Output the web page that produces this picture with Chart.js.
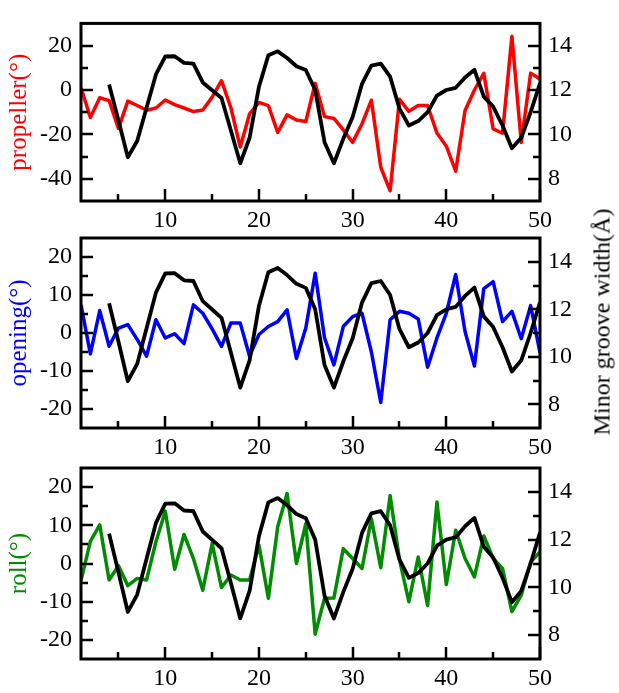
<!DOCTYPE html>
<html>
<head>
<meta charset="utf-8">
<title>propeller / opening / roll vs minor groove width</title>
<script src="https://cdn.jsdelivr.net/npm/chart.js@4.4.1/dist/chart.umd.min.js"></script>
<style>
  body { margin: 0; background: #fff; }
  #wrap { position: relative; width: 619px; height: 693px; overflow: hidden; }
  #wrap canvas { position: absolute; left: 0; top: 0; }
  #mgwTitle {
    position: absolute; left: 602px; top: 322px;
    transform: translate(-50%, -50%) rotate(-90deg);
    font: 24px "Liberation Serif", "Times New Roman", serif;
    white-space: nowrap; color: #000;
  }
</style>
</head>
<body>
<div id="wrap">
  <canvas id="propellerChart" width="619" height="693"></canvas>
  <canvas id="openingChart" width="619" height="693"></canvas>
  <canvas id="rollChart" width="619" height="693"></canvas>
  <div id="mgwTitle">Minor groove width(Å)</div>
</div>
<script>
// base pair index (x axis)
const basePairs = [1, 2, 3, 4, 5, 6, 7, 8, 9, 10, 11, 12, 13, 14, 15, 16, 17, 18, 19, 20,
  21, 22, 23, 24, 25, 26, 27, 28, 29, 30, 31, 32, 33, 34, 35, 36, 37, 38, 39, 40,
  41, 42, 43, 44, 45, 46, 47, 48, 49, 50];
// minor groove width only exists from bp 4
const groovePairs = [4, 5, 6, 7, 8, 9, 10, 11, 12, 13, 14, 15, 16, 17, 18, 19, 20,
  21, 22, 23, 24, 25, 26, 27, 28, 29, 30, 31, 32, 33, 34, 35, 36, 37, 38, 39, 40,
  41, 42, 43, 44, 45, 46, 47, 48, 49, 50];

const minorGroove = [12.25, 10.63, 8.97, 9.7, 11.2, 12.7, 13.51, 13.52, 13.22, 13.19,
  12.34, 11.99, 11.64, 10.18, 8.7, 9.85, 12.15, 13.56, 13.74, 13.44,
  13.07, 12.9, 12.0, 9.65, 8.7, 9.8, 10.78, 12.28, 13.1, 13.19,
  12.6, 11.16, 10.4, 10.6, 11.0, 11.75, 12.0, 12.1, 12.56, 12.91,
  11.7, 11.25, 10.4, 9.38, 9.85, 11.0, 12.3];

const propeller = [1, -12.4, -3.5, -4.8, -17.3, -5, -7, -9.1, -8.1, -4.5,
  -6.6, -8.1, -9.7, -9, -3.2, 4.2, -8, -25.7, -10.7, -5.6,
  -7, -19.1, -11.2, -13.5, -14.2, 3, -12, -12.8, -18, -23.6,
  -15.2, -4.6, -34.8, -45.4, -4.2, -9.6, -7, -7, -19.4, -25.3,
  -36.6, -9.2, 0, 7.5, -17.5, -19.5, 24.2, -23.6, 7.6, 5];

const opening = [7.4, -5.5, 5.9, -3.5, 1.3, 2.2, -1.7, -6.1, 3.5, -1.3,
  -0.2, -2.8, 7.4, 5.2, 1.1, -3.5, 2.6, 2.6, -6.1, -0.4,
  1.7, 3.0, 6.1, -6.7, 1.3, 15.7, -1.3, -8.4, 1.7, 4.3,
  5.2, -5, -18.3, 3.5, 5.7, 5.2, 3.7, -9, -1.3, 5.2,
  15.4, 0.4, -8.7, 11.7, 13.5, 3.0, 5.7, -1.5, 7.2, -5.2];

const roll = [-4.5, 5.8, 10.1, -4.3, -0.6, -5.8, -3.9, -4.3, 5.7, 13.7,
  -1.5, 7.6, 1.3, -7, 5.2, -6.3, -3, -4.3, -4.3, 4.8,
  -9.1, 9.6, 18.3, 0, 10.4, -18.5, -9.1, -9, 3.9, 1.3,
  -1.3, 11.7, -1.1, 17.8, 1, -10, 1.7, -11, 16.1, -5.5,
  8.7, 1.3, -3.5, 7.2, 1.3, -1.3, -12.6, -8.3, 0.4, 3];

// tick values
const xMajor = [10, 20, 30, 40, 50];
const xMinor = [5, 15, 25, 35, 45];
const propMajor = [-40, -20, 0, 20];
const propMinor = [-30, -10, 10];
const angMajor = [-20, -10, 0, 10, 20];
const angMinor = [-15, -5, 5, 15];
const mgwMajor = [8, 10, 12, 14];
const mgwMinor = [9, 11, 13];

const serif = '"Liberation Serif", "Times New Roman", serif';
const tickFont = { family: serif, size: 24 };
const H = 693;

// box + inward tick marks, xmgrace style
const frameTicks = {
  id: "frameTicks",
  afterDatasetsDraw(chart, args, opts) {
    const { ctx, chartArea: a, scales } = chart;
    ctx.save();
    ctx.strokeStyle = "#000";
    ctx.lineWidth = 2.5;
    ctx.beginPath();
    opts.marks.forEach((m) => {
      const s = scales[m.axis];
      m.values.forEach((v) => {
        const p = Math.round(s.getPixelForValue(v));
        const len = m.major ? 12 : 7;
        if (m.axis === "x") {
          ctx.moveTo(p, a.bottom);
          ctx.lineTo(p, a.bottom - len);
        } else if (m.axis === "y") {
          ctx.moveTo(a.left, p);
          ctx.lineTo(a.left + len, p);
        } else {
          ctx.moveTo(a.right, p);
          ctx.lineTo(a.right - len, p);
        }
      });
    });
    ctx.stroke();
    ctx.lineWidth = 3;
    ctx.strokeRect(a.left, a.top, a.right - a.left, a.bottom - a.top);
    ctx.restore();
  },
};

const sortNum = (arr) => arr.slice().sort((a, b) => a - b);

function makePanel(id, series, color, title, yMin, yMax, yMajor, yMinor, top, bottom) {
  const xTicks = sortNum(xMajor.concat(xMinor));
  const yTicks = sortNum(yMajor.concat(yMinor));
  const rTicks = sortNum(mgwMajor.concat(mgwMinor));

  return new Chart(document.getElementById(id), {
    type: "line",
    data: {
      datasets: [
        {
          label: "Minor groove width",
          data: groovePairs.map((x, i) => ({ x, y: minorGroove[i] })),
          yAxisID: "y1",
          borderColor: "#000",
          borderWidth: 3.8,
        },
        {
          label: title,
          data: basePairs.map((x, i) => ({ x, y: series[i] })),
          yAxisID: "y",
          borderColor: color,
          borderWidth: 3.5,
        },
      ],
    },
    options: {
      responsive: false,
      animation: false,
      devicePixelRatio: 1,
      layout: { padding: { top: top, bottom: H - bottom - 30, left: 0, right: 0 } },
      elements: {
        point: { radius: 0, hoverRadius: 0 },
        line: { tension: 0, borderJoinStyle: "round", fill: false },
      },
      plugins: {
        legend: { display: false },
        tooltip: { enabled: false },
        frameTicks: {
          marks: [
            { axis: "x", values: xMajor, major: true },
            { axis: "x", values: xMinor, major: false },
            { axis: "y", values: yMajor, major: true },
            { axis: "y", values: yMinor, major: false },
            { axis: "y1", values: mgwMajor, major: true },
            { axis: "y1", values: mgwMinor, major: false },
          ],
        },
      },
      scales: {
        x: {
          type: "linear",
          min: 1,
          max: 50,
          grid: { display: false, drawTicks: false },
          border: { display: false },
          afterBuildTicks: (s) => { s.ticks = xTicks.map((v) => ({ value: v })); },
          afterFit: (s) => { s.height = 30; },
          ticks: {
            autoSkip: false,
            maxRotation: 0,
            padding: 5,
            color: "#000",
            font: tickFont,
            callback: (v) => (xMajor.includes(v) ? String(v) : ""),
          },
        },
        y: {
          position: "left",
          min: yMin,
          max: yMax,
          grid: { display: false, drawTicks: false },
          border: { display: false },
          afterBuildTicks: (s) => { s.ticks = yTicks.map((v) => ({ value: v })); },
          afterFit: (s) => { s.width = 81; },
          title: {
            display: true,
            text: title,
            color: color,
            font: { family: serif, size: 25 },
            padding: { top: 4, bottom: 0 },
          },
          ticks: {
            autoSkip: false,
            padding: 9,
            color: "#000",
            font: tickFont,
            callback: (v) => (yMajor.includes(v) ? String(v) : ""),
          },
        },
        y1: {
          position: "right",
          min: 7,
          max: 15,
          grid: { display: false, drawTicks: false },
          border: { display: false },
          afterBuildTicks: (s) => { s.ticks = rTicks.map((v) => ({ value: v })); },
          afterFit: (s) => { s.width = 79; },
          ticks: {
            autoSkip: false,
            padding: 8,
            color: "#000",
            font: tickFont,
            callback: (v) => (mgwMajor.includes(v) ? String(v) : ""),
          },
        },
      },
    },
    plugins: [frameTicks],
  });
}

makePanel("propellerChart", propeller, "#ff0000", "propeller(°)", -50, 30, propMajor, propMinor, 9, 201);
makePanel("openingChart", opening, "#0000ff", "opening(°)", -25, 25, angMajor, angMinor, 238, 428);
makePanel("rollChart", roll, "#008b00", "roll(°)", -25, 25, angMajor, angMinor, 468, 659);
</script>
</body>
</html>
